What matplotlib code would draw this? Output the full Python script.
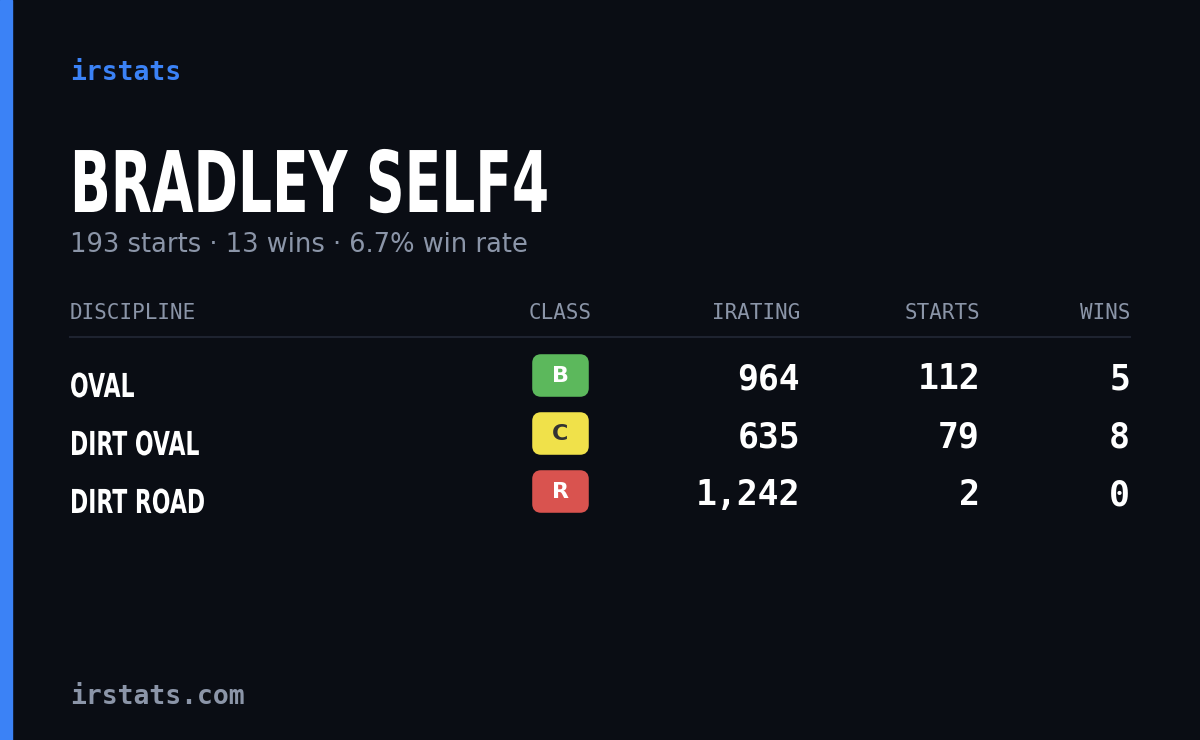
import matplotlib.pyplot as plt
from matplotlib.patches import FancyBboxPatch, Rectangle, PathPatch
from matplotlib.textpath import TextPath
from matplotlib.font_manager import FontProperties
from matplotlib.transforms import Affine2D

driver = "BRADLEY SELF4"
summary = "193 starts · 13 wins · 6.7% win rate"
columns = ["DISCIPLINE", "CLASS", "IRATING", "STARTS", "WINS"]
disciplines = ["OVAL", "DIRT OVAL", "DIRT ROAD"]
classes = ["B", "C", "R"]
iratings = [964, 635, 1242]
starts = [112, 79, 2]
wins = [5, 8, 0]

class_colors = {"B": "#5cb85c", "C": "#f0e14a", "R": "#d9534f"}
class_text = {"B": "white", "C": "#333333", "R": "white"}

bg = "#0a0d14"
gray = "#8b95a8"
mono = "DejaVu Sans Mono"
bold_fp = FontProperties(family="DejaVu Sans", weight="bold")


def narrow_text(ax, x, baseline, s, size, squeeze):
    # condensed look: squeeze a text path horizontally
    tp = TextPath((0, 0), s, size=size, prop=bold_fp)
    tr = Affine2D().scale(squeeze, -1).translate(x, baseline)
    ax.add_patch(PathPatch(tr.transform_path(tp), fc="white", ec="none"))


fig = plt.figure(figsize=(12, 7.4), dpi=100)
fig.patch.set_facecolor(bg)
ax = fig.add_axes([0, 0, 1, 1])
ax.set_xlim(0, 1200)
ax.set_ylim(740, 0)
ax.axis("off")

ax.add_patch(Rectangle((0, 0), 12, 740, color="#3b82f6"))

ax.text(70, 73, "irstats", color="#3b82f6", fontsize=19, family=mono,
        weight="bold", va="center")
narrow_text(ax, 70, 212, driver, 85, 0.63)
ax.text(70, 245, summary, color=gray, fontsize=18.5, va="center")

col_x = [70, 560, 800, 980, 1130]
col_ha = ["left", "center", "right", "right", "right"]
for name, x, ha in zip(columns, col_x, col_ha):
    ax.text(x, 313, name, color=gray, fontsize=15, family=mono, ha=ha, va="center")
ax.plot([70, 1130], [337, 337], color="#1e2330", lw=1.5)

row_y = [377, 435, 493]
for i, y in enumerate(row_y):
    narrow_text(ax, 70, y + 20, disciplines[i], 33, 0.665)
    c = classes[i]
    ax.add_patch(FancyBboxPatch((535, y - 20), 51, 37, boxstyle="round,pad=0,rounding_size=6",
                                fc=class_colors[c], ec=class_colors[c], lw=4))
    ax.text(560, y - 1, c, color=class_text[c], fontsize=16, weight="bold",
            ha="center", va="center")
    for val, x in [(f"{iratings[i]:,}", 800), (str(starts[i]), 980), (str(wins[i]), 1130)]:
        ax.text(x, y + 2, val, color="white", fontsize=25, family=mono, weight="bold",
                ha="right", va="center")

ax.text(70, 697, "irstats.com", color=gray, fontsize=19, family=mono,
        weight="bold", va="center")

fig.savefig("out.png", dpi=100, facecolor=bg)
